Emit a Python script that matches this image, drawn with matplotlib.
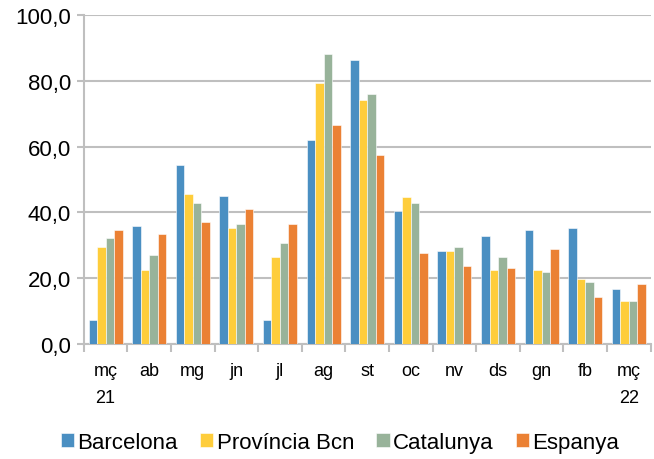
import numpy as np
import matplotlib
matplotlib.use("Agg")
import matplotlib.pyplot as plt
from matplotlib.ticker import FuncFormatter, FixedLocator

plt.rcParams['font.family'] = ['Liberation Sans', 'DejaVu Sans']

months = ["mç\n21", "ab", "mg", "jn", "jl", "ag", "st", "oc", "nv", "ds", "gn", "fb", "mç\n22"]
barcelona = [7.3, 35.9, 54.5, 44.9, 7.3, 62.0, 86.2, 40.4, 28.2, 32.7, 34.7, 35.3, 16.8]
provincia = [29.6, 22.6, 45.5, 35.3, 26.4, 79.4, 74.1, 44.8, 28.2, 22.6, 22.6, 19.9, 13.1]
catalunya = [32.2, 27.0, 43.0, 36.5, 30.8, 88.2, 76.0, 43.0, 29.6, 26.4, 21.9, 18.7, 13.1]
espanya = [34.7, 33.4, 37.2, 41.0, 36.5, 66.5, 57.6, 27.6, 23.8, 23.2, 29.0, 14.3, 18.1]

series = [("Barcelona", barcelona, "#4A8FC2"),
          ("Província Bcn", provincia, "#FECD3B"),
          ("Catalunya", catalunya, "#98B39A"),
          ("Espanya", espanya, "#EB8134")]

fig = plt.figure(figsize=(6.54, 4.6), dpi=100)
ax = fig.add_axes([0.128, 0.25, 0.867, 0.715])

x = np.arange(len(months))
w = 0.195
for i, (name, vals, col) in enumerate(series):
    ax.bar(x + (i - 1.5) * w, vals, w, color=col, edgecolor="white", linewidth=0.4,
           label=name, zorder=3)

ax.set_xlim(-0.5, len(months) - 0.5)
ax.set_ylim(0, 100)
ax.set_yticks(np.arange(0, 101, 20))
ax.yaxis.set_major_formatter(FuncFormatter(lambda v, p: f"{v:.1f}".replace(".", ",")))
ax.yaxis.grid(True, color="#BFBFBF", linewidth=1.5, zorder=0)

ax.set_xticks(x)
ax.set_xticklabels(months, fontsize=13, linespacing=1.75)
ax.xaxis.set_minor_locator(FixedLocator(np.arange(-0.5, len(months), 1)))
ax.tick_params(axis="x", which="major", length=0, pad=13)
ax.tick_params(axis="x", which="minor", length=6, color="#BFBFBF", width=1.5)
ax.tick_params(axis="y", length=5, color="#BFBFBF", width=1.5, labelsize=16, pad=4)

for s in ["top", "right"]:
    ax.spines[s].set_visible(False)
for s in ["left", "bottom"]:
    ax.spines[s].set_color("#BFBFBF")
    ax.spines[s].set_linewidth(1.5)

fig.legend(loc="lower center", bbox_to_anchor=(0.52, -0.03), ncol=4, frameon=False,
           fontsize=16, handlelength=0.6, handleheight=0.6, handletextpad=0.15,
           columnspacing=1.0)

fig.savefig("out.png", dpi=100)
